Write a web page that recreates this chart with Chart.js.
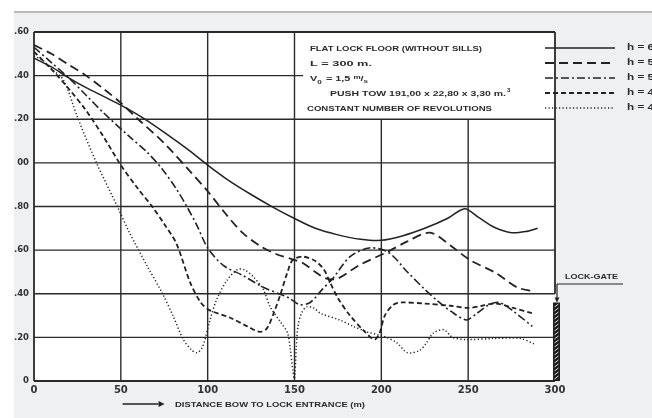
<!DOCTYPE html>
<html><head><meta charset="utf-8">
<script src="https://cdn.jsdelivr.net/npm/chart.js@4.4.1/dist/chart.umd.min.js"></script>
<style>html,body{margin:0;padding:0;background:#fff;}canvas{display:block;}</style>
</head><body>
<canvas id="c" width="652" height="418"></canvas>
<script>
// ---- data ----
const xTickValues = [0, 50, 100, 150, 200, 250, 300];
const yTickLabels = ["0", ".20", ".40", ".60", ".80", "00", ".20", ".40", ".60"];
const seriesLabels = ["h = 6", "h = 5", "h = 5", "h = 4", "h = 4"];
const infoLines = ["FLAT LOCK FLOOR (WITHOUT SILLS)", "L = 300 m.", "V0 = 1,5 m/s", "PUSH TOW 191,00 x 22,80 x 3,30 m.3", "CONSTANT NUMBER OF REVOLUTIONS"];
const xAxisTitle = "DISTANCE BOW TO LOCK ENTRANCE (m)";
const gateLabel = "LOCK-GATE";

const xSolid = [0,10,20,30,40,50,62,75,88,100,112,125,138,150,162,175,188,200,212,225,238,248,256,265,275,283,290];
const ySolid = [1.48,1.44,1.39,1.345,1.305,1.265,1.21,1.14,1.065,0.99,0.92,0.855,0.795,0.745,0.70,0.67,0.65,0.645,0.665,0.70,0.745,0.79,0.75,0.705,0.68,0.685,0.70];

const xLong = [0,10,20,30,40,50,60,75,90,100,110,120,130,140,148,155,162,168,175,187,203,215,228,240,251,266,278,288];
const yLong = [1.54,1.50,1.45,1.40,1.34,1.275,1.20,1.09,0.96,0.87,0.77,0.68,0.62,0.58,0.56,0.54,0.50,0.47,0.47,0.53,0.59,0.64,0.68,0.62,0.555,0.495,0.43,0.41];

const xDashDot = [0,10,20,30,40,55,65,74,82,88,94,100,109,120,132,141,147,153,159,166,172,182,193,204,215,225,232,240,249,255,262,268,276,287];
const yDashDot = [1.53,1.46,1.39,1.31,1.23,1.12,1.05,0.97,0.88,0.80,0.71,0.61,0.53,0.485,0.43,0.40,0.38,0.35,0.36,0.42,0.47,0.57,0.61,0.59,0.50,0.42,0.37,0.32,0.28,0.31,0.35,0.36,0.32,0.25];

const xShort = [0,10,20,30,40,50,60,68,75,82,90,96,101,113,123,130,134,138,142,146,149,155,162,167,170,175,182,190,196,199,202,207,212,225,240,250,258,266,276,287];
const yShort = [1.51,1.43,1.34,1.24,1.12,0.99,0.88,0.80,0.72,0.63,0.45,0.36,0.325,0.29,0.25,0.225,0.24,0.31,0.40,0.50,0.555,0.57,0.55,0.51,0.46,0.38,0.30,0.23,0.19,0.22,0.30,0.35,0.36,0.355,0.345,0.335,0.345,0.355,0.335,0.31];

const xDot = [0,5,10,17,25,36,48,55,65,74,80,86,91,94,97,101,105,111,117,121,126,132,136,142,146,147.5,149,150,151,152,154,157,161,165,176,184,192,199,203,209,215,222,226,230,236,241,249,265,280,288];
const yDot = [1.49,1.47,1.43,1.38,1.21,1.00,0.80,0.68,0.53,0.40,0.30,0.19,0.14,0.13,0.155,0.27,0.37,0.46,0.51,0.51,0.48,0.42,0.34,0.27,0.22,0.15,0.05,0.01,0.15,0.25,0.31,0.34,0.335,0.31,0.28,0.25,0.225,0.21,0.20,0.175,0.13,0.14,0.175,0.22,0.235,0.20,0.19,0.195,0.195,0.17];

// ---- styles ----
const INK = '#222';
const styles = [
  {dash: [], width: 1.5},
  {dash: [9, 5], width: 1.8},
  {dash: [8, 3, 2, 3], width: 1.6},
  {dash: [5, 3], width: 1.8},
  {dash: [1.2, 2.3], width: 1.5}
];
const pairs = (xs, ys) => xs.map((v, i) => ({x: v, y: ys[i]}));
const seriesData = [pairs(xSolid, ySolid), pairs(xLong, yLong), pairs(xDashDot, yDashDot), pairs(xShort, yShort), pairs(xDot, yDot)];

function fitText(ctx, text, x, y, w, font) {
  ctx.font = font;
  const m = ctx.measureText(text).width;
  ctx.save();
  ctx.translate(x, y);
  ctx.scale(w / m, 1);
  ctx.fillText(text, 0, 0);
  ctx.restore();
}

const decor = {
  id: 'decor',
  beforeDraw(chart) {
    const {ctx, chartArea: a} = chart;
    ctx.save();
    ctx.fillStyle = '#fff'; ctx.fillRect(0, 0, chart.width, chart.height);
    ctx.fillStyle = '#eef0f2'; ctx.fillRect(14, 12, chart.width - 14, chart.height - 12);
    ctx.fillStyle = '#b9b9b9'; ctx.fillRect(14, 11, chart.width - 14, 2);
    ctx.fillStyle = '#fff'; ctx.fillRect(a.left, a.top, a.right - a.left, a.bottom - a.top);
    ctx.restore();
  },
  beforeDatasetsDraw(chart) {
    const {ctx, scales: {x, y}} = chart;
    const L = x.getPixelForValue(0), R = x.getPixelForValue(300), T = y.getPixelForValue(1.6), B = y.getPixelForValue(0);
    const line = (x1, y1, x2, y2) => { ctx.beginPath(); ctx.moveTo(x1, y1); ctx.lineTo(x2, y2); ctx.stroke(); };
    ctx.save();
    ctx.strokeStyle = '#2a2a2a'; ctx.lineWidth = 1.4;
    [0.2, 0.4, 0.6, 0.8, 1.0, 1.2].forEach(v => { const p = y.getPixelForValue(v); line(L, p, R, p); });
    const p14 = y.getPixelForValue(1.4); line(L, p14, x.getPixelForValue(155), p14);
    [50, 100, 150].forEach(v => { const p = x.getPixelForValue(v); line(p, T, p, B); });
    const p12 = y.getPixelForValue(1.2);
    [200, 250].forEach(v => { const p = x.getPixelForValue(v); line(p, p12, p, B); });
    ctx.lineWidth = 1.8;
    line(L, T, R, T); line(L, T, L, B); line(L, B, R, B); line(R, T, R, y.getPixelForValue(0.4));
    ctx.restore();
  },
  afterDatasetsDraw(chart) {
    const {ctx, scales: {x, y}} = chart;
    const R = x.getPixelForValue(300), B = y.getPixelForValue(0);
    const line = (x1, y1, x2, y2) => { ctx.beginPath(); ctx.moveTo(x1, y1); ctx.lineTo(x2, y2); ctx.stroke(); };
    ctx.save();
    ctx.fillStyle = '#2b2b2b'; ctx.strokeStyle = INK;
    ctx.textBaseline = 'middle'; ctx.textAlign = 'left';
    const F = "bold 8px 'Liberation Sans'";
    const S = "bold 6px 'Liberation Sans'";
    const rowsY = [49, 64, 79, 94, 109];
    // info text
    fitText(ctx, infoLines[0], 310, rowsY[0], 172, F);
    fitText(ctx, infoLines[1], 310, rowsY[1], 62, F);
    // V0 line with sub/superscripts, stretched to its width in the reference
    ctx.save();
    ctx.translate(310, rowsY[2]);
    ctx.scale(1.35, 1);
    let cx = 0;
    ctx.font = F; ctx.fillText('V', cx, 0); cx += ctx.measureText('V').width;
    ctx.font = S; ctx.fillText('0', cx, 3); cx += ctx.measureText('0').width + 1;
    ctx.font = F; ctx.fillText(' = 1,5 ', cx, 0); cx += ctx.measureText(' = 1,5 ').width;
    ctx.font = S; ctx.fillText('m', cx, -2); cx += ctx.measureText('m').width;
    ctx.font = F; ctx.fillText('/', cx, 0); cx += ctx.measureText('/').width;
    ctx.font = S; ctx.fillText('s', cx, 2);
    ctx.restore();
    // push tow
    fitText(ctx, 'PUSH TOW 191,00 x 22,80 x 3,30 m.', 330, rowsY[3], 176, F);
    ctx.font = S; ctx.fillText('3', 507, rowsY[3] - 4);
    fitText(ctx, infoLines[4], 307, rowsY[4], 185, F);
    // legend samples
    styles.forEach((s, i) => {
      ctx.save();
      ctx.lineWidth = s.width; ctx.setLineDash(s.dash);
      line(545, rowsY[i] - 1, 615, rowsY[i] - 1);
      ctx.restore();
      fitText(ctx, seriesLabels[i], 627, rowsY[i] - 1, 27, "bold 9px 'Liberation Sans'");
    });
    // lock gate
    const gx = R - 2, gw = 7, gt = y.getPixelForValue(0.36);
    ctx.fillStyle = '#1e1e1e'; ctx.fillRect(gx, gt, gw, B - gt);
    ctx.strokeStyle = '#ddd'; ctx.lineWidth = 1;
    for (let yy = gt + 3; yy < B - 1; yy += 4) line(gx + 1.5, yy + 1.5, gx + gw - 1.5, yy - 1.5);
    ctx.strokeStyle = INK; ctx.lineWidth = 1.2;
    line(R + 2, 284, R + 68, 284);
    line(R + 2, 284, R + 2, gt - 3);
    ctx.fillStyle = INK;
    ctx.beginPath(); ctx.moveTo(R - 0.5, gt - 5); ctx.lineTo(R + 4.5, gt - 5); ctx.lineTo(R + 2, gt); ctx.closePath(); ctx.fill();
    ctx.fillStyle = '#2b2b2b';
    fitText(ctx, gateLabel, R + 10, 277, 53, F);
    // x axis title with arrow
    const ax0 = x.getPixelForValue(51), ax1 = ax0 + 36, ay = 404;
    ctx.strokeStyle = INK; ctx.lineWidth = 1.5; line(ax0, ay, ax1, ay);
    ctx.fillStyle = INK;
    ctx.beginPath(); ctx.moveTo(ax1, ay - 3); ctx.lineTo(ax1 + 6, ay); ctx.lineTo(ax1, ay + 3); ctx.closePath(); ctx.fill();
    ctx.fillStyle = '#2b2b2b';
    fitText(ctx, xAxisTitle, 175, 405, 190, F);
    ctx.restore();
  }
};

new Chart(document.getElementById('c'), {
  type: 'line',
  data: {
    datasets: seriesData.map((d, i) => ({
      label: seriesLabels[i],
      data: d,
      borderColor: INK,
      borderWidth: styles[i].width,
      borderDash: styles[i].dash,
      pointRadius: 0,
      tension: 0.3,
      fill: false
    }))
  },
  options: {
    responsive: false,
    animation: false,
    devicePixelRatio: 1,
    layout: {padding: {left: 0, top: 32, right: 97, bottom: 0}},
    plugins: {legend: {display: false}, tooltip: {enabled: false}, title: {display: false}},
    scales: {
      x: {
        type: 'linear', min: 0, max: 300,
        afterFit: s => { s.height = 37; },
        afterBuildTicks: s => { s.ticks = xTickValues.map(v => ({value: v})); },
        grid: {display: false, drawTicks: false},
        border: {display: false},
        ticks: {padding: 3, color: '#333', font: {family: 'DejaVu Sans', size: 10, weight: 'bold'}, maxRotation: 0, callback: v => String(v)}
      },
      y: {
        type: 'linear', min: 0, max: 1.6,
        afterFit: s => { s.width = 34; },
        grid: {display: false, drawTicks: false},
        border: {display: false},
        ticks: {stepSize: 0.2, padding: 5, color: '#333', font: {family: 'DejaVu Sans', size: 8.5, weight: 'bold'}, callback: (v, i) => yTickLabels[i]}
      }
    }
  },
  plugins: [decor]
});
</script>
</body></html>
